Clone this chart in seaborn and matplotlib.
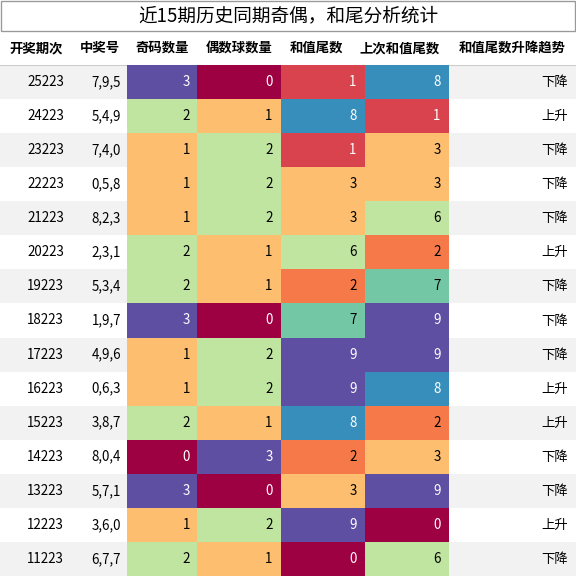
import matplotlib
matplotlib.use("Agg")
import matplotlib.pyplot as plt
import seaborn as sns
import numpy as np

periods = ["25223","24223","23223","22223","21223","20223","19223","18223","17223","16223","15223","14223","13223","12223","11223"]
numbers = ["7,9,5","5,4,9","7,4,0","0,5,8","8,2,3","2,3,1","5,3,4","1,9,7","4,9,6","0,6,3","3,8,7","8,0,4","5,7,1","3,6,0","6,7,7"]
odd_cnt = [3,2,1,1,1,2,2,3,1,1,2,0,3,1,2]
even_cnt = [0,1,2,2,2,1,1,0,2,2,1,3,0,2,1]
sum_tail = [1,8,1,3,3,6,2,7,9,9,8,2,3,9,0]
prev_tail = [8,1,3,3,6,2,7,9,9,8,2,3,9,0,6]
trend = ["下降","上升","下降","下降","下降","上升","下降","下降","下降","上升","上升","下降","下降","上升","下降"]
headers = ["开奖期次","中奖号","奇码数量","偶数球数量","和值尾数","上次和值尾数","和值尾数升降趋势"]
title = "近15期历史同期奇偶，和尾分析统计"

plt.rcParams['font.family'] = ['Noto Sans CJK SC', 'DejaVu Sans']
W = H = 576
fig = plt.figure(figsize=(6, 6), dpi=96)
bg = fig.add_axes([0, 0, 1, 1])
bg.set_xlim(0, W); bg.set_ylim(H, 0); bg.axis("off")

n = len(periods)
top = 65
rh = (H - top) / n
for i in range(n):
    if i % 2 == 0:
        bg.add_patch(plt.Rectangle((0, top + i * rh), W, rh, color="#f2f2f2", lw=0))
    y = top + (i + 0.5) * rh
    bg.text(64, y, periods[i], ha="right", va="center", fontsize=10)
    bg.text(121, y, numbers[i], ha="right", va="center", fontsize=10)
    bg.text(568, y, trend[i], ha="right", va="center", fontsize=10)

bg.add_patch(plt.Rectangle((1, 1), W - 2, 30, fill=False, ec="#999999", lw=1))
bg.text(288, 16, title, ha="center", va="center", fontsize=14)
hx = [36, 100, 162, 239, 316, 400, 512]
for x, h in zip(hx, headers):
    bg.text(x, 48, h, ha="center", va="center", fontsize=10, fontweight="bold")
bg.plot([0, W], [top, top], color="#cccccc", lw=0.8)

cols = [odd_cnt, even_cnt, sum_tail, prev_tail]
edges = [127, 197, 281, 365, 449]
cmap = plt.get_cmap("Spectral")
for k, vals in enumerate(cols):
    v = np.array(vals, dtype=float).reshape(-1, 1)
    lo, hi = v.min(), v.max()
    ax = fig.add_axes([edges[k] / W, 0, (edges[k + 1] - edges[k]) / W, (H - top) / H])
    sns.heatmap(v, ax=ax, cmap="Spectral", vmin=lo, vmax=hi, cbar=False,
                xticklabels=False, yticklabels=False, linewidths=0)
    for i, val in enumerate(vals):
        c = cmap((val - lo) / (hi - lo))
        lum = 0.299 * c[0] + 0.587 * c[1] + 0.114 * c[2]
        ax.text(0.9, i + 0.5, str(val), ha="right", va="center", fontsize=10,
                color="white" if lum < 0.55 else "black")

fig.savefig("out.png", dpi=96)
